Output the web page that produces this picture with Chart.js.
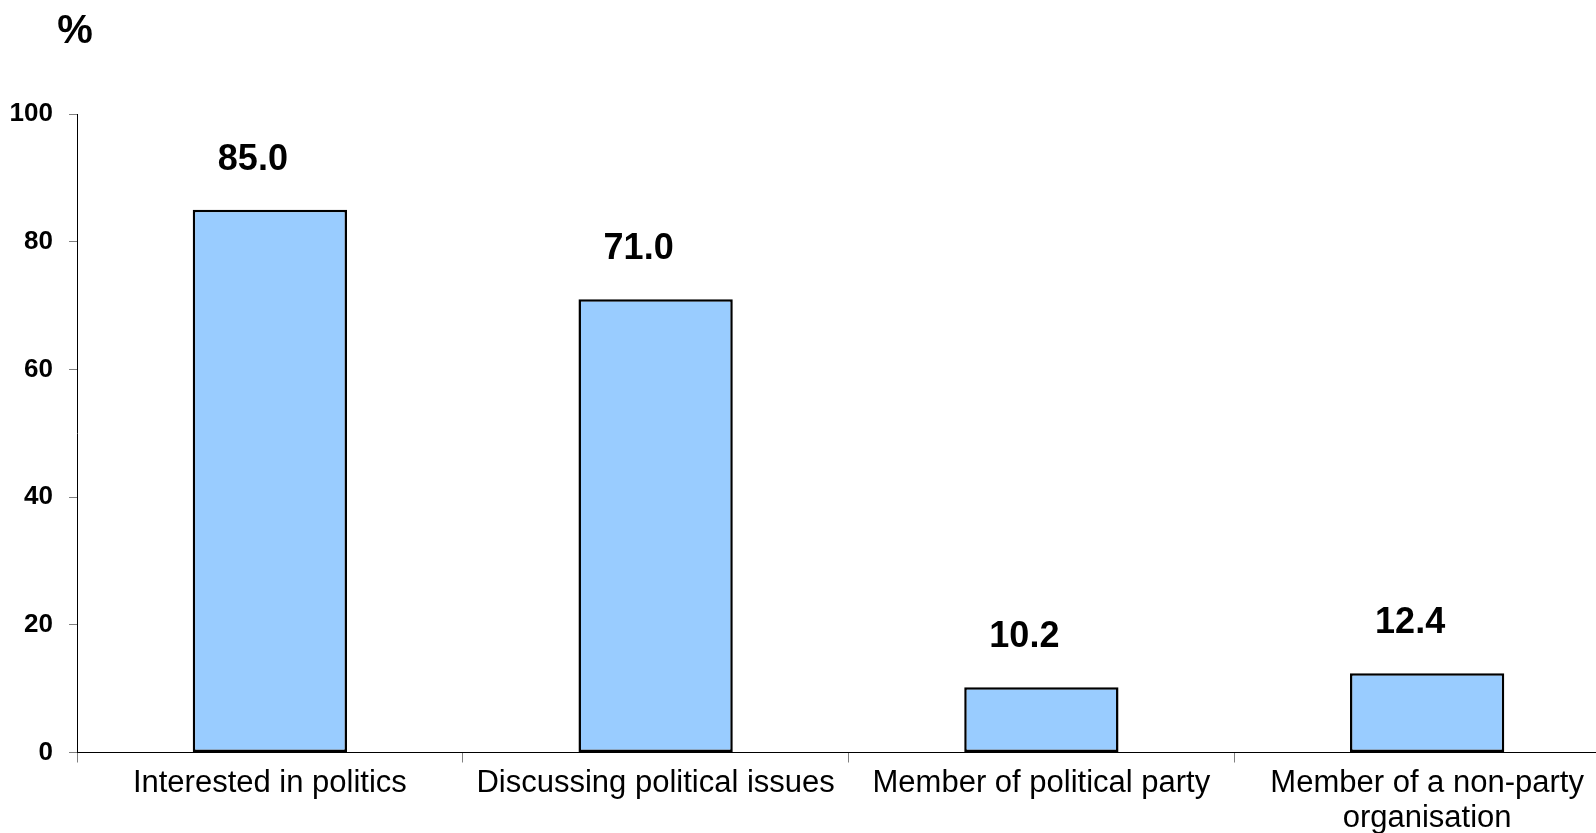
<!DOCTYPE html>
<html>
<head>
<meta charset="utf-8">
<title>Political participation</title>
<script src="https://cdn.jsdelivr.net/npm/chart.js@4"></script>
<style>
  html, body { margin: 0; padding: 0; background: #fff; overflow: hidden; }
  #wrap { width: 1620px; height: 833px; }
</style>
</head>
<body>
<div id="wrap"><canvas id="myChart" width="1620" height="833"></canvas></div>
<script>
// categories and values
const categories = [
  'Interested in politics',
  'Discussing political issues',
  'Member of political party',
  ['Member of a non-party', 'organisation']
];
const shares = [85.0, 71.0, 10.2, 12.4];
const yTicks = [0, 20, 40, 60, 80, 100];

const FONT = '"Liberation Sans", Arial, sans-serif';

// numbers over the bars and the "%" unit in the corner
const barLabels = {
  id: 'barLabels',
  afterDatasetsDraw(chart) {
    const ctx = chart.ctx;
    const meta = chart.getDatasetMeta(0);
    ctx.save();
    ctx.fillStyle = '#000';
    ctx.textAlign = 'center';
    ctx.textBaseline = 'middle';
    ctx.font = 'bold 36px ' + FONT;
    meta.data.forEach((bar, i) => {
      ctx.fillText(shares[i].toFixed(1), bar.x - 17, bar.y - 50);
    });
    ctx.font = 'bold 40px ' + FONT;
    ctx.fillText('%', 75, 32);
    ctx.restore();
  }
};

const ctx = document.getElementById('myChart');
new Chart(ctx, {
  type: 'bar',
  data: {
    labels: categories,
    datasets: [{
      data: shares,
      backgroundColor: '#99CCFF',
      borderColor: '#000000',
      borderWidth: 2.5,
      borderSkipped: false,
      barPercentage: 0.4,
      categoryPercentage: 1.0
    }]
  },
  options: {
    responsive: false,
    animation: false,
    layout: { padding: { top: 114, left: 0, right: 0, bottom: 0 } },
    plugins: {
      legend: { display: false },
      tooltip: { enabled: false }
    },
    scales: {
      x: {
        grid: {
          offset: true,
          drawOnChartArea: false,
          drawTicks: true,
          tickLength: 10,
          tickColor: '#808080'
        },
        border: { color: '#000', width: 1 },
        ticks: {
          color: '#000',
          padding: 4,
          maxRotation: 0,
          autoSkip: false,
          font: { family: FONT, size: 31, lineHeight: 1.12 }
        },
        afterFit: scale => { scale.height = 80.5; }
      },
      y: {
        min: 0,
        max: 100,
        afterBuildTicks: scale => { scale.ticks = yTicks.map(v => ({ value: v })); },
        grid: {
          drawOnChartArea: false,
          drawTicks: true,
          tickLength: 8,
          tickColor: '#808080'
        },
        border: { color: '#000', width: 1 },
        ticks: {
          color: '#000',
          padding: 16,
          font: { family: FONT, size: 26, weight: 'bold' }
        },
        afterFit: scale => { scale.width = 77; }
      }
    }
  },
  plugins: [barLabels]
});
</script>
</body>
</html>
